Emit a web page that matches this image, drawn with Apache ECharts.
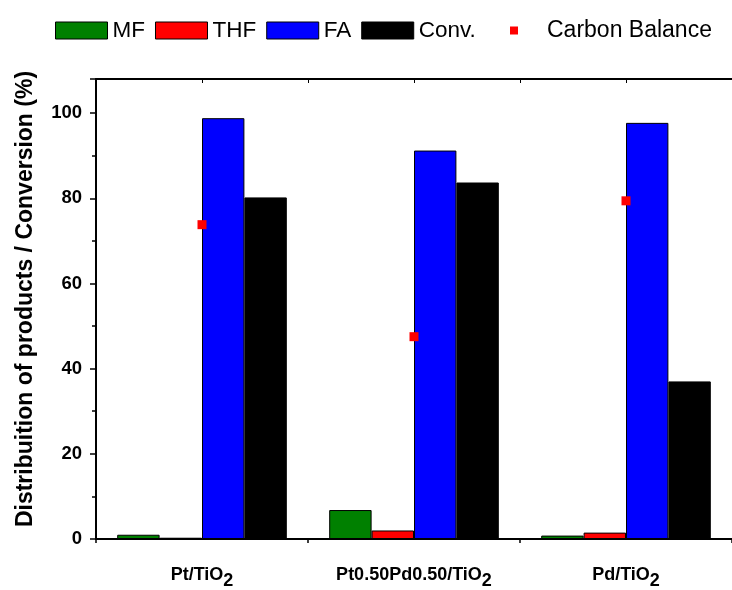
<!DOCTYPE html>
<html>
<head>
<meta charset="utf-8">
<script src="https://cdn.jsdelivr.net/npm/echarts@6/dist/echarts.min.js"></script>
<style>html,body{margin:0;padding:0;background:#fff}#c{width:732px;height:590px}</style>
</head>
<body>
<div id="c"></div>
<script>
const categories = ['Pt/TiO2', 'Pt0.50Pd0.50/TiO2', 'Pd/TiO2'];
const mf = [1.0, 6.8, 0.8];
const thf = [0.3, 2.0, 1.5];
const fa = [98.8, 91.2, 97.7];
const conv = [80.2, 83.7, 37.0];
const carbonBalance = [73.8, 47.5, 79.4];
const yTicks = [0, 20, 40, 60, 80, 100];

const FONT = 'Arial, "Liberation Sans", sans-serif';
const chart = echarts.init(document.getElementById('c'));
const barStyle = (c) => ({ color: c, borderColor: '#000', borderWidth: 1 });

chart.setOption({
  animation: false,
  textStyle: { fontFamily: FONT, color: '#000' },
  grid: { left: 96, top: 79, bottom: 43, width: 637 },
  legend: [
    {
      data: ['MF', 'THF', 'FA', 'Conv.'],
      left: 50, top: 14, icon: 'rect',
      itemWidth: 52, itemHeight: 17, itemGap: 10,
      itemStyle: { borderColor: '#000', borderWidth: 1 },
      textStyle: { fontSize: 22.5, color: '#000', fontFamily: FONT },
      selectedMode: false
    },
    {
      data: ['Carbon Balance'],
      left: 505, top: 14, icon: 'rect',
      itemWidth: 8, itemHeight: 8,
      textStyle: { fontSize: 23, color: '#000', fontFamily: FONT, padding: [0, 0, 0, 24] },
      selectedMode: false
    }
  ],
  xAxis: [
    {
      type: 'category', data: categories, position: 'bottom',
      axisLine: { lineStyle: { color: '#000', width: 2 } },
      axisTick: { alignWithLabel: true, length: 6, lineStyle: { color: '#000', width: 1.5 } },
      axisLabel: {
        interval: 0, margin: 22, fontSize: 18, fontWeight: 'bold', color: '#000', fontFamily: FONT,
        formatter: v => v.replace('TiO2', 'TiO{s|2}'),
        rich: { s: { fontSize: 18, fontWeight: 'bold', color: '#000', fontFamily: FONT, padding: [11, 0, 0, 0] } }
      }
    },
    {
      type: 'value', min: 0, max: 3, interval: 1, position: 'bottom',
      axisLine: { show: false },
      axisTick: { show: true, length: 4, lineStyle: { color: '#000', width: 1.5 } },
      axisLabel: { show: false }, splitLine: { show: false }
    },
    {
      type: 'value', min: 0, max: 3, interval: 0.5, position: 'top',
      axisLine: { show: true, lineStyle: { color: '#000', width: 2 } },
      axisTick: { show: true, inside: true, length: 4, lineStyle: { color: '#000', width: 1 } },
      axisLabel: { show: false }, splitLine: { show: false }
    }
  ],
  yAxis: {
    type: 'value', min: 0, max: 108, interval: 20,
    name: 'Distribuition of products / Conversion (%)',
    nameLocation: 'middle', nameGap: 59,
    nameTextStyle: { fontSize: 23, fontWeight: 'bold', color: '#000', fontFamily: FONT, padding: [0, 0, 0, 20] },
    axisLine: { show: true, lineStyle: { color: '#000', width: 2 } },
    axisTick: { show: true, length: 6, lineStyle: { color: '#000', width: 1.5 } },
    minorTick: { show: true, splitNumber: 2, length: 4, lineStyle: { color: '#000', width: 1.5 } },
    axisLabel: {
      fontSize: 18.5, fontWeight: 'bold', color: '#000', fontFamily: FONT, margin: 14,
      formatter: v => (yTicks.includes(v) ? String(v) : '')
    },
    splitLine: { show: false }
  },
  series: [
    { name: 'MF', type: 'bar', data: mf, itemStyle: barStyle('#008000'), barGap: '0%', barCategoryGap: '20%' },
    { name: 'THF', type: 'bar', data: thf, itemStyle: barStyle('#FF0000'), barGap: '0%', barCategoryGap: '20%' },
    { name: 'FA', type: 'bar', data: fa, itemStyle: barStyle('#0000FF'), barGap: '0%', barCategoryGap: '20%' },
    { name: 'Conv.', type: 'bar', data: conv, itemStyle: barStyle('#000000'), barGap: '0%', barCategoryGap: '20%' },
    { name: 'Carbon Balance', type: 'scatter', data: carbonBalance, symbol: 'rect', symbolSize: 9, itemStyle: { color: '#FF0000', opacity: 1 }, z: 5 }
  ]
});
</script>
</body>
</html>
